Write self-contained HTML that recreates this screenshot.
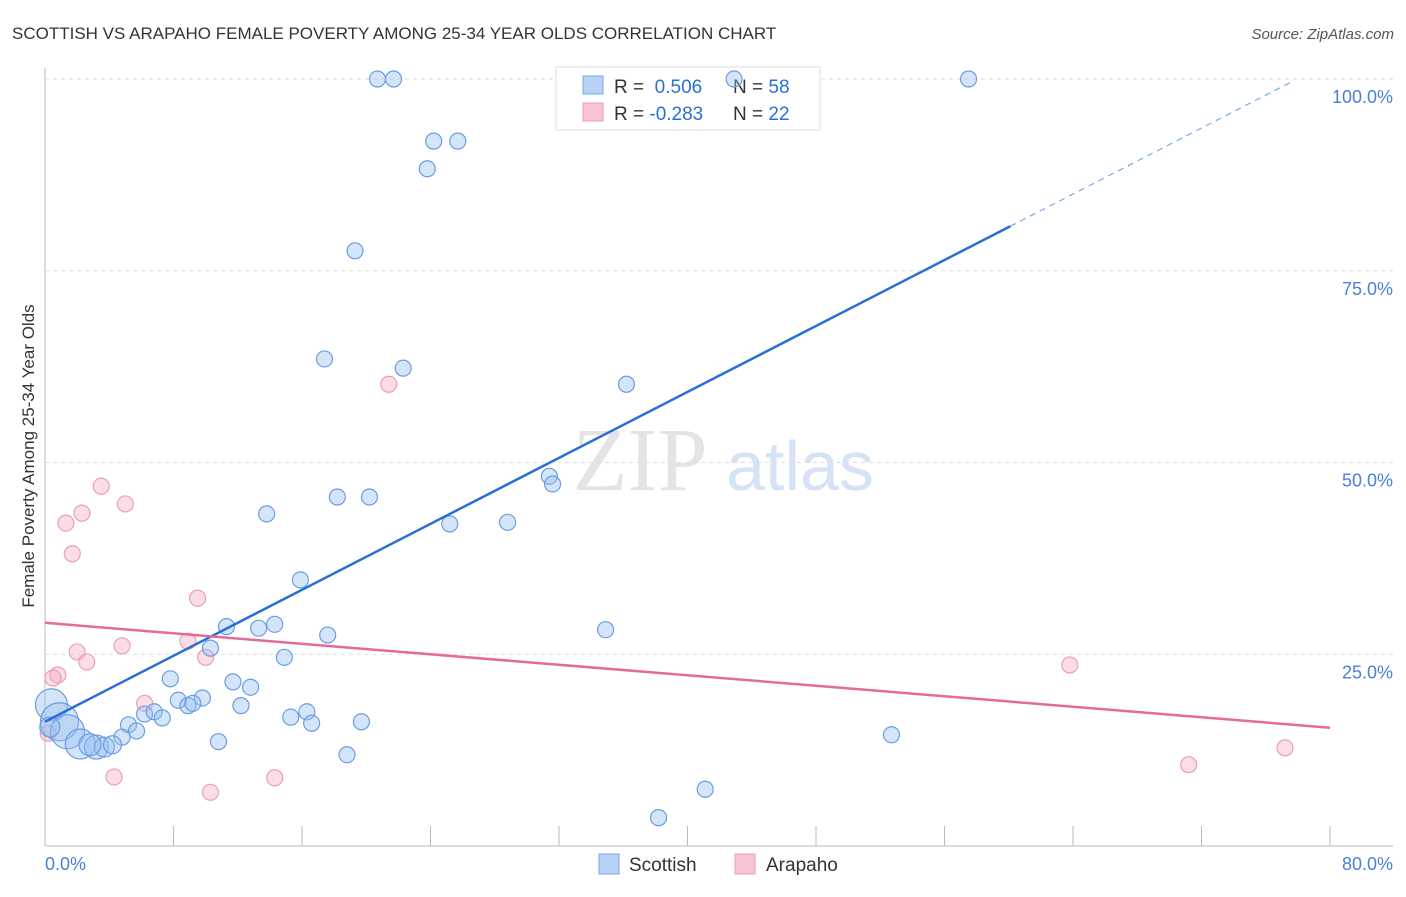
<!DOCTYPE html>
<html><head><meta charset="utf-8"><style>
body{margin:0;background:#fff;font-family:"Liberation Sans",sans-serif}
</style></head><body>
<svg width="1406" height="892" xmlns="http://www.w3.org/2000/svg" font-family="Liberation Sans, sans-serif">
<text x="12" y="39" font-size="17" fill="#333">SCOTTISH VS ARAPAHO FEMALE POVERTY AMONG 25-34 YEAR OLDS CORRELATION CHART</text>
<text x="1394" y="39" font-size="15" fill="#555" font-style="italic" text-anchor="end">Source: ZipAtlas.com</text>
<text x="640" y="490" font-size="90" fill="#e4e4e4" font-family="Liberation Serif, serif" text-anchor="middle">ZIP</text>
<text x="800" y="490" font-size="70" fill="#d5e3f5" text-anchor="middle">atlas</text>
<g id="grid"></g>
<line x1="45" y1="68" x2="45" y2="846" stroke="#bbb"/>
<line x1="45" y1="846" x2="1393" y2="846" stroke="#bbb"/>
<g id="ticks"></g>
<g>
<rect x="556" y="67" width="264" height="63" fill="#fff" stroke="#ddd"/>
<rect x="583" y="76" width="20" height="18" fill="#b7d2f5" stroke="#7aa8e6"/>
<rect x="583" y="103" width="20" height="18" fill="#f8c4d4" stroke="#ec9db7"/>
<text x="614" y="93" font-size="19" fill="#333">R = <tspan fill="#2a6fd6">&#160;0.506</tspan></text>
<text x="733" y="93" font-size="19" fill="#333">N = <tspan fill="#2a6fd6">58</tspan></text>
<text x="614" y="120" font-size="19" fill="#333">R = <tspan fill="#2a6fd6">-0.283</tspan></text>
<text x="733" y="120" font-size="19" fill="#333">N = <tspan fill="#2a6fd6">22</tspan></text>
</g>
<g id="pts"></g>
<g id="lines"></g>
<text x="45" y="870" font-size="18" fill="#4a7fd8">0.0%</text>
<text x="1393" y="870" font-size="18" fill="#4a7fd8" text-anchor="end">80.0%</text>
<text transform="translate(34,456) rotate(-90)" font-size="17" fill="#333" text-anchor="middle">Female Poverty Among 25-34 Year Olds</text>
<g>
<rect x="599" y="854" width="20" height="20" fill="#b7d2f5" stroke="#7aa8e6"/>
<text x="629" y="871" font-size="19" fill="#333">Scottish</text>
<rect x="735" y="854" width="20" height="20" fill="#f8c4d4" stroke="#ec9db7"/>
<text x="766" y="871" font-size="19" fill="#333">Arapaho</text>
</g>
</svg>
<script>
const yTicks=[25,50,75,100];
const yTickLabels=["25.0%","50.0%","75.0%","100.0%"];
const xTicks=[0,8,16,24,32,40,48,56,64,72,80];
const scotX=[20.7,21.7,42.9,57.5,24.2,25.7,23.8,19.3,17.4,22.3,36.2,31.4,31.6,18.2,20.2,13.8,25.2,28.8,15.9,11.3,13.3,14.3,17.6,34.9,10.3,14.9,7.8,11.7,12.8,8.3,9.8,8.9,9.2,12.2,6.2,6.8,7.3,15.3,16.3,16.6,19.7,5.2,5.7,4.8,10.8,52.7,18.8,41.1,38.2,0.4,0.9,1.4,2.2,3.2,3.7,4.2,2.8,0.3];
const scotY=[100,100,100,100,91.9,91.9,88.3,77.6,63.5,62.3,60.2,48.2,47.2,45.5,45.5,43.3,42.0,42.2,34.7,28.6,28.4,28.9,27.5,28.2,25.8,24.6,21.8,21.4,20.7,19.0,19.3,18.3,18.6,18.3,17.2,17.5,16.7,16.8,17.5,16.0,16.2,15.8,15.0,14.2,13.6,14.5,11.9,7.4,3.7,18.4,16.2,14.9,13.3,12.9,12.9,13.2,13.2,15.5];
const scotR=[8,8,8,8,8,8,8,8,8,8,8,8,8,8,8,8,8,8,8,8,8,8,8,8,8,8,8,8,8,8,8,8,8,8,8,8,8,8,8,8,8,8,8,8,8,8,8,8,8,16,19,17,15,12,10,9,11,10];
const araX=[21.4,3.5,5.0,2.3,1.3,1.7,9.5,8.9,4.8,2.0,2.6,10.0,63.8,0.8,0.5,6.2,0.2,4.3,14.3,10.3,71.2,77.2];
const araY=[60.2,46.9,44.6,43.4,42.1,38.1,32.3,26.7,26.1,25.3,24.0,24.6,23.6,22.3,21.9,18.6,14.7,9.0,8.9,7.0,10.6,12.8];
const blueTrend=[16.2,1.075];
const pinkTrend=[29.1,-0.171];
const X=v=>45+v*16.0625, Y=v=>846-v*7.67;
const NS="http://www.w3.org/2000/svg";
function mk(t,a,p){const e=document.createElementNS(NS,t);for(const k in a)e.setAttribute(k,a[k]);document.getElementById(p).appendChild(e);return e;}
yTicks.forEach((t,i)=>{
 const l=mk('line',{x1:45,x2:1393,y1:Y(t),y2:Y(t),stroke:'#ddd','stroke-dasharray':'4,4'},'grid');
 
 
 const tx=mk('text',{x:1393,y:Y(t)+24,'font-size':18,fill:'#4a7fd8','text-anchor':'end'},'grid');
 tx.textContent=yTickLabels[i];
 
 
});
xTicks.forEach(t=>{
 const l=mk('line',{x1:X(t),x2:X(t),y1:826,y2:846,stroke:'#bbb'},'ticks');
 
 
});
araX.forEach((x,i)=>{
 const c=mk('circle',{cx:X(x),cy:Y(araY[i]),r:8,fill:'rgba(245,170,195,0.4)',stroke:'#ec9db7','stroke-width':1.2},'pts');
 
 
});
scotX.forEach((x,i)=>{
 const c=mk('circle',{cx:X(x),cy:Y(scotY[i]),r:scotR[i],fill:'rgba(150,190,240,0.4)',stroke:'#6a9de0','stroke-width':1.2},'pts');
 
 
});
const bl=mk('line',{x1:X(0),y1:Y(blueTrend[0]),x2:X(60.1),y2:Y(blueTrend[0]+blueTrend[1]*60.1),stroke:'#2a6fd6','stroke-width':2.5},'lines');


const bd=mk('line',{x1:X(60.1),y1:Y(blueTrend[0]+blueTrend[1]*60.1),x2:X(77.5),y2:Y(blueTrend[0]+blueTrend[1]*77.5),stroke:'#7aa8e6','stroke-width':1.2,'stroke-dasharray':'6,5'},'lines');


const pl=mk('line',{x1:X(0),y1:Y(pinkTrend[0]),x2:X(80),y2:Y(pinkTrend[0]+pinkTrend[1]*80),stroke:'#e46b97','stroke-width':2.5},'lines');


</script>
</body></html>
